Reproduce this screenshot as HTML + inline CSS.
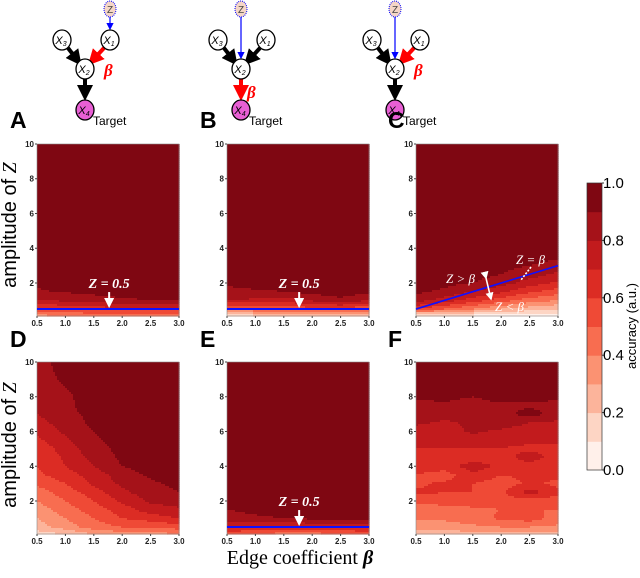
<!DOCTYPE html>
<html><head><meta charset="utf-8"><style>
body{margin:0;background:#fff;}
svg{display:block;font-family:"Liberation Sans",sans-serif;}
</style></head><body>
<svg id="fig" width="640" height="578" viewBox="0 0 640 578">
<defs>
<marker id="ahk" markerWidth="4" markerHeight="4" refX="2.5" refY="2" orient="auto"><path d="M0,0L4,2L0,4z" fill="#000"/></marker>
<marker id="ahr" markerWidth="4" markerHeight="4" refX="2.5" refY="2" orient="auto"><path d="M0,0L4,2L0,4z" fill="#f00"/></marker>
<marker id="ahb" markerWidth="6" markerHeight="6" refX="5" refY="3" orient="auto"><path d="M0,0L6,3L0,6z" fill="#00f"/></marker>
<marker id="ahw" markerWidth="5" markerHeight="5" refX="4" refY="2.5" orient="auto"><path d="M0,0L5,2.5L0,5z" fill="#fff"/></marker>
</defs>
<g id="diagrams"></g>
<g id="panels"></g>
<g id="cbar"></g>
<text x="16" y="225" transform="rotate(-90 16 225)" text-anchor="middle" font-size="20">amplitude of <tspan font-family="Liberation Serif" font-style="italic">Z</tspan></text>
<text x="16" y="445" transform="rotate(-90 16 445)" text-anchor="middle" font-size="20">amplitude of <tspan font-family="Liberation Serif" font-style="italic">Z</tspan></text>
<text x="300" y="564" text-anchor="middle" font-size="20" font-family="Liberation Serif">Edge coefficient <tspan font-weight="bold" font-style="italic">β</tspan></text>
</svg>
<script>
const NS='http://www.w3.org/2000/svg';
const betaCols=[0.5,1.0,1.5,2.0,2.5,3.0];
const zRows=[0.1,0.5,1,1.5,2,2.5,3,3.5,4,4.5,5,5.5,6,6.5,7,7.5,8,9,10];
const xTicks=['0.5','1.0','1.5','2.0','2.5','3.0'];
const yTicks=[2,4,6,8,10];
const cbTicks=['0.0','0.2','0.4','0.6','0.8','1.0'];
const levelColors=['#fff0ea','#fdd5c4','#fcb49b','#fb9272','#f86d50','#ef4a36','#dc2c24','#c21b1d','#a51219','#7f0712'];
const D95=[0.95,0.95,0.95,0.95,0.95,0.95];
const accA=[[0.35,0.4,0.4,0.45,0.45,0.45],[0.6,0.6,0.65,0.65,0.65,0.65],[0.8,0.82,0.85,0.88,0.9,0.9],[0.89,0.91,0.93,0.95,0.95,0.95],[0.91,0.95,0.95,0.95,0.95,0.95],D95,D95,D95,D95,D95,D95,D95,D95,D95,D95,D95,D95,D95,D95];
const accB=[[0.15,0.15,0.2,0.2,0.2,0.2],[0.45,0.5,0.5,0.55,0.55,0.5],[0.8,0.78,0.75,0.82,0.88,0.8],[0.88,0.88,0.9,0.93,0.95,0.92],[0.91,0.95,0.95,0.95,0.95,0.95],D95,D95,D95,D95,D95,D95,D95,D95,D95,D95,D95,D95,D95,D95];
const accC=[[0.05,0.05,0.05,0.05,0.05,0.05],[0.6,0.5,0.4,0.3,0.25,0.2],[0.85,0.75,0.65,0.55,0.45,0.4],[0.92,0.88,0.8,0.72,0.62,0.55],[0.95,0.93,0.9,0.85,0.75,0.68],[0.95,0.95,0.93,0.9,0.85,0.78],[0.95,0.95,0.95,0.93,0.9,0.85],[0.95,0.95,0.95,0.95,0.95,0.92],D95,D95,D95,D95,D95,D95,D95,D95,D95,D95,D95];
const accD=[[0.15,0.2,0.3,0.35,0.35,0.4],[0.25,0.35,0.45,0.5,0.5,0.55],[0.3,0.4,0.5,0.6,0.65,0.7],[0.35,0.45,0.55,0.65,0.75,0.78],[0.4,0.5,0.6,0.72,0.82,0.85],[0.45,0.55,0.65,0.78,0.85,0.9],[0.52,0.6,0.72,0.82,0.88,0.93],[0.58,0.65,0.75,0.85,0.92,0.95],[0.6,0.7,0.8,0.9,0.95,0.95],[0.6,0.72,0.83,0.92,0.95,0.95],[0.62,0.75,0.86,0.93,0.95,0.95],[0.68,0.78,0.88,0.95,0.95,0.95],[0.72,0.82,0.9,0.95,0.95,0.95],[0.76,0.85,0.92,0.95,0.95,0.95],[0.8,0.88,0.92,0.95,0.95,0.95],[0.81,0.88,0.94,0.95,0.95,0.95],[0.82,0.88,0.95,0.95,0.95,0.95],[0.85,0.92,0.95,0.95,0.95,0.95],[0.85,0.95,0.95,0.95,0.95,0.95]];
const accE=[[0.55,0.5,0.45,0.45,0.5,0.55],[0.7,0.7,0.7,0.7,0.7,0.7],[0.85,0.88,0.9,0.92,0.92,0.92],[0.9,0.93,0.95,0.95,0.95,0.95],[0.93,0.95,0.95,0.95,0.95,0.95],D95,D95,D95,D95,D95,D95,D95,D95,D95,D95,D95,D95,D95,D95];
const accF=[[0.2,0.25,0.25,0.25,0.25,0.25],[0.35,0.35,0.38,0.4,0.4,0.38],[0.42,0.42,0.45,0.52,0.55,0.45],[0.45,0.45,0.48,0.5,0.5,0.5],[0.52,0.55,0.55,0.55,0.55,0.55],[0.62,0.6,0.6,0.58,0.75,0.62],[0.58,0.62,0.6,0.55,0.62,0.58],[0.6,0.55,0.68,0.6,0.62,0.62],[0.65,0.65,0.75,0.68,0.65,0.65],[0.65,0.65,0.65,0.65,0.75,0.65],[0.7,0.7,0.7,0.7,0.68,0.68],[0.75,0.72,0.75,0.72,0.72,0.72],[0.75,0.75,0.82,0.78,0.75,0.78],[0.82,0.78,0.82,0.85,0.8,0.78],[0.85,0.85,0.85,0.85,0.95,0.85],[0.85,0.88,0.85,0.88,0.88,0.85],[0.93,0.93,0.9,0.95,0.95,0.93],D95,D95];

function el(tag,attrs,parent){const e=document.createElementNS(NS,tag);for(const k in attrs)e.setAttribute(k,attrs[k]);if(parent)parent.appendChild(e);return e;}
function interp(arr,v){
  if(v<=arr[0])return 0; for(let i=0;i<arr.length-1;i++){if(v<=arr[i+1])return i+(v-arr[i])/(arr[i+1]-arr[i]);} return arr.length-1;}
function sample(m,b,z){const fi=interp(betaCols,b),fj=interp(zRows,z);const i0=Math.min(Math.floor(fi),betaCols.length-2),j0=Math.min(Math.floor(fj),zRows.length-2);const tx=fi-i0,ty=fj-j0;
  const a=m[j0][i0]*(1-tx)+m[j0][i0+1]*tx, c=m[j0+1][i0]*(1-tx)+m[j0+1][i0+1]*tx; return a*(1-ty)+c*ty;}

const panels=[
 {id:'A',m:accA,x0:37,y0:144,line:'h',lx:10,ly:128},
 {id:'B',m:accB,x0:227,y0:144,line:'h',lx:200,ly:128},
 {id:'C',m:accC,x0:416,y0:144,line:'d',lx:388,ly:128},
 {id:'D',m:accD,x0:37,y0:362,line:null,lx:10,ly:347},
 {id:'E',m:accE,x0:227,y0:362,line:'h',lx:200,ly:347},
 {id:'F',m:accF,x0:416,y0:362,line:null,lx:388,ly:347}];
const PW=142,PH=172,Z0=0.1,Z1=10;
const root=document.getElementById('panels');
panels.forEach(p=>{
  const g=el('g',{},root);
  
  
  const xs=b=>p.x0+(b-0.5)/2.5*PW, ys=z=>p.y0+PH-(z-Z0)/(Z1-Z0)*PH;
  const hm=el('g',{},g);
  
  
  const S=2;
  for(let py=0;py<PH;py+=S){
    const z=Z1-(py+S/2)/PH*(Z1-Z0);
    let runStart=0,runLv=-1;
    for(let px=0;px<=PW;px+=S){
      let lv=-2;
      if(px<PW){const b=0.5+(px+S/2)/PW*2.5;lv=Math.max(0,Math.min(9,Math.floor(sample(p.m,b,z)*10)));}
      if(lv!==runLv){
        if(runLv>=0){const r=el('rect',{x:p.x0+runStart,y:p.y0+py,width:Math.min(px,PW)-runStart+0.6,height:S+0.6,fill:levelColors[runLv]},hm);
          
          }
        runStart=px;runLv=lv;}
    }
  }
  el('rect',{x:p.x0,y:p.y0,width:PW,height:PH,fill:'none',stroke:'#888','stroke-width':0.6},g);
  xTicks.forEach(t=>{const x=xs(parseFloat(t));el('line',{x1:x,x2:x,y1:p.y0+PH,y2:p.y0+PH+2,stroke:'#444'},g);
    const tt=el('text',{x:x,y:p.y0+PH+10,'text-anchor':'middle','font-size':8,'font-weight':'bold',fill:'#222'},g);tt.textContent=t;
    
    });
  yTicks.forEach(t=>{const y=ys(t);el('line',{x1:p.x0-2,x2:p.x0,y1:y,y2:y,stroke:'#444'},g);
    const tt=el('text',{x:p.x0-3,y:y+3,'text-anchor':'end','font-size':8,'font-weight':'bold',fill:'#222'},g);tt.textContent=t;
    
    });
  const L=el('text',{x:p.lx,y:p.ly,'font-size':23,'font-weight':'bold'},g);L.textContent=p.id;
  
  
  if(p.line==='h'){
    const y=ys(0.5);
    const ln=el('line',{x1:p.x0,x2:p.x0+PW,y1:y,y2:y,stroke:'#1010ff','stroke-width':2},g);
    
    
    const ax=xs(1.77);
    el('line',{x1:ax,x2:ax,y1:y-17,y2:y-3,stroke:'#fff','stroke-width':2,'marker-end':'url(#ahw)'},g);
    const t=el('text',{x:ax,y:y-21,'text-anchor':'middle','font-size':14,'font-weight':'bold','font-style':'italic','font-family':'Liberation Serif',fill:'#fff'},g);t.textContent='Z = 0.5';
    
    
  } else if(p.line==='d'){
    const ln=el('line',{x1:xs(0.5),y1:ys(0.5),x2:xs(3),y2:ys(3),stroke:'#1010ff','stroke-width':1.6},g);
    
    
    const mk=(txt,x,y,n)=>{const t=el('text',{x:x,y:y,'font-size':13,'font-style':'italic','font-family':'Liberation Serif',fill:'#fff'},g);t.textContent=txt;
      
      };
    mk('Z > β',446,283,'z-greater-label');mk('Z < β',495,311,'z-less-label');mk('Z = β',516,264,'z-equal-label');
    el('line',{x1:486,y1:278,x2:491,y2:299,stroke:'#fff','stroke-width':1.6,'marker-end':'url(#ahw)','marker-start':'url(#ahw)'},g);
    el('line',{x1:531,y1:267,x2:521,y2:280,stroke:'#fff','stroke-width':1.6,'stroke-dasharray':'2,1.5'},g);
  }
});
const cb=document.getElementById('cbar');
const CB={x:587,y0:183,y1:470,w:15};
levelColors.forEach((c,i)=>{const h=(CB.y1-CB.y0)/10;const r=el('rect',{x:CB.x,y:CB.y1-(i+1)*h,width:CB.w,height:h+0.5,fill:c},cb);
  
  });
el('rect',{x:CB.x,y:CB.y0,width:CB.w,height:CB.y1-CB.y0,fill:'none',stroke:'#333','stroke-width':0.7},cb);
cbTicks.forEach(t=>{const y=CB.y1-parseFloat(t)*(CB.y1-CB.y0);el('line',{x1:CB.x+CB.w,x2:CB.x+CB.w+2,y1:y,y2:y,stroke:'#333'},cb);
  const tt=el('text',{x:CB.x+CB.w+1,y:y+5,'font-size':15},cb);tt.textContent=t;
  
  });
const cbt=el('text',{x:636,y:326,'font-size':13,'text-anchor':'middle',transform:'rotate(-90 636 326)'},cb);cbt.textContent='accuracy (a.u.)';


const dg=document.getElementById('diagrams');
function node(g,x,y,lab,sub,fill,rx,ry){el('ellipse',{cx:x,cy:y,rx:rx||9,ry:ry||10,fill:fill||'#fff',stroke:'#000','stroke-width':1.3},g);
  const t=el('text',{x:x-1,y:y+4,'text-anchor':'middle','font-size':11,'font-style':'italic'},g);t.textContent=lab;
  if(sub){const s=el('tspan',{'font-size':7,dy:2},t);s.textContent=sub;}}
function arrow(g,x1,y1,x2,y2,col){el('line',{x1:x1,y1:y1,x2:x2,y2:y2,stroke:col,'stroke-width':4,'marker-end':col==='#000'?'url(#ahk)':'url(#ahr)'},g);}
function diagram(cx,variant,name){
  const g=el('g',{},dg);
  
  
  const x1x=cx+25, x3x=cx-23;
  arrow(g,x3x+6,48,cx-7,61,'#000');
  arrow(g,x1x-6,48,cx+7,61,variant==='B'?'#000':'#f00');
  arrow(g,cx,79,cx,95,variant==='B'?'#f00':'#000');
  if(variant==='A'){el('line',{x1:x1x,y1:17,x2:x1x,y2:29,stroke:'#00f','stroke-width':1.2,'marker-end':'url(#ahb)'},g);}
  else{el('line',{x1:cx,y1:17,x2:cx,y2:58,stroke:'#00f','stroke-width':1.2,'marker-end':'url(#ahb)'},g);}
  const zxx=variant==='A'?x1x:cx;
  el('ellipse',{cx:zxx,cy:9,rx:6,ry:8,fill:'#f5d6c6',stroke:'#00f','stroke-width':1,'stroke-dasharray':'1,1'},g);
  const zt=el('text',{x:zxx,y:13,'text-anchor':'middle','font-size':10,fill:'#444'},g);zt.textContent='Z';
  node(g,x3x,40,'X','3');node(g,x1x,40,'X','1');node(g,cx,69,'X','2');node(g,cx,110,'X','4','#e85fd4');
  const tg=el('text',{x:cx+8,y:125,'font-size':12},g);tg.textContent='Target';
  const bt=el('text',{'font-size':17,'font-weight':'bold','font-style':'italic','font-family':'Liberation Serif',fill:'#f00'},g);bt.textContent='β';
  if(variant==='B'){bt.setAttribute('x',cx+6);bt.setAttribute('y',98);}else{bt.setAttribute('x',cx+19);bt.setAttribute('y',76);}
}
diagram(85,'A','diagram-a');diagram(241,'B','diagram-b');diagram(395,'C','diagram-c');
</script>
</body></html>
